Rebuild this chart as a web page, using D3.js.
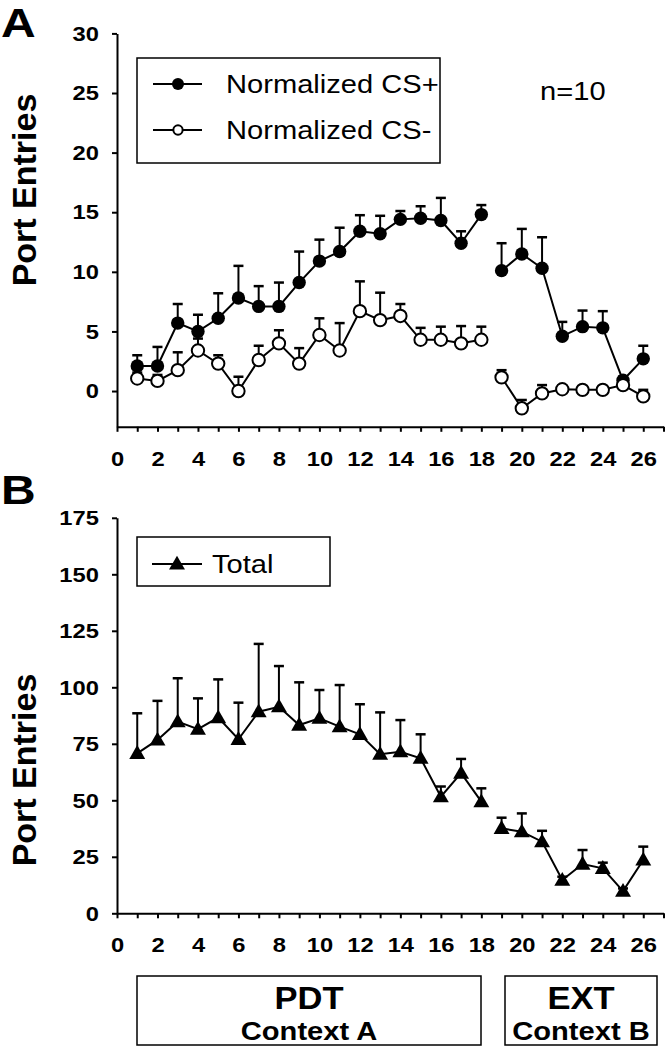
<!DOCTYPE html>
<html><head><meta charset="utf-8">
<script src="https://cdn.jsdelivr.net/npm/d3@7"></script>
<style>body{margin:0;background:#fff}svg{display:block}</style>
</head><body>
<script>
// ---- data ----
const sessions = d3.range(1, 27);
const phase = sessions.map(s => s <= 18 ? "PDT" : "EXT");
const csPlus    = [2.1,2.1,5.7,5.0,6.1,7.8,7.1,7.1,9.1,10.9,11.7,13.4,13.2,14.4,14.5,14.3,12.4,14.8, 10.1,11.5,10.3,4.6,5.4,5.3,0.9,2.7];
const csPlusErr = [0.9,1.6,1.6,1.4,2.1,2.7,1.7,2.0,2.6,1.8,2.0,1.35,1.5,0.7,1.0,1.9,1.0,0.8, 2.3,2.1,2.6,1.2,1.35,1.4,0.3,1.1];
const csMinus    = [1.05,0.85,1.75,3.4,2.3,0.0,2.6,4.0,2.3,4.7,3.4,6.7,5.95,6.3,4.3,4.3,4.0,4.3, 1.15,-1.45,-0.2,0.15,0.1,0.1,0.5,-0.45];
const csMinusErr = [0.5,0.5,1.5,1.0,0.7,1.2,1.2,1.1,1.3,1.4,2.3,2.5,2.3,1.0,1.0,1.1,1.45,1.1, 0.6,0.7,0.7,0.3,0.3,0.3,0.3,0.55];
const total    = [70.8,76.7,84.8,81.5,86.6,77.0,89.2,91.4,83.3,86.3,82.6,79.2,70.4,71.5,68.6,51.6,62.0,49.4, 37.6,36.1,31.7,14.7,21.8,19.9,9.8,23.6];
const totalErr = [17.7,17.3,19.2,13.6,16.9,16.2,30.0,18.0,18.9,12.5,18.4,13.3,18.5,14.0,10.6,4.5,6.3,5.9, 4.7,8.1,4.8,1.5,6.2,2.5,1.2,5.9];
const yTicksA = [0,5,10,15,20,25,30];
const yTicksB = [0,25,50,75,100,125,150,175];
const xTickLabels = d3.range(0, 27, 2);
const legendA = ["Normalized CS+", "Normalized CS-"];
const legendB = ["Total"];
const contexts = [{name:"PDT", sub:"Context A"}, {name:"EXT", sub:"Context B"}];

// ---- layout ----
const W = 665, H = 1050, FONT = "'Liberation Sans', Arial, Helvetica, sans-serif";
const SX = 1.12;
const svg = d3.select("body").append("svg").attr("width", W).attr("height", H)
  .style("font-family", FONT);

const x = d3.scaleLinear().domain([0, 27]).range([117, 663.5]);
const yA = d3.scaleLinear().domain([-3, 30]).range([426.8, 33.4]);
const yB = d3.scaleLinear().domain([0, 175]).range([913.3, 517.8]);

function label(g, px, py, str, size, weight, anchor, sx) {
  return g.append("text")
    .attr("transform", `translate(${px},${py}) scale(${sx||SX},1)`)
    .attr("text-anchor", anchor || "start")
    .attr("font-size", size).attr("font-weight", weight || "normal")
    .attr("fill", "#000").text(str);
}

function axes(y, yTicks, yBase) {
  const gx = svg.append("g").attr("transform", `translate(0,${y(yBase)})`)
    .call(d3.axisBottom(x).tickValues(d3.range(0, 28)).tickSize(5).tickSizeOuter(0)
      .tickFormat(d => xTickLabels.includes(d) ? d : ""));
  const gy = svg.append("g").attr("transform", `translate(${x(0)},0)`)
    .call(d3.axisLeft(y).tickValues(yTicks).tickSize(5).tickSizeOuter(0));
  [gx, gy].forEach(g => {
    g.select(".domain").attr("stroke", "#000").attr("stroke-width", 2);
    g.selectAll(".tick line").attr("stroke", "#000").attr("stroke-width", 2);
    g.selectAll(".tick text").attr("font-family", FONT).attr("font-size", 21)
      .attr("font-weight", "bold").attr("fill", "#000");
  });
  gx.selectAll(".tick text").attr("y", 24).attr("transform", "scale(1.13,1)");
  gy.selectAll(".tick text").attr("x", -16).attr("transform", "scale(1.13,1)");
}

function series(y, vals, errs, kind) {
  const pts = sessions.map((s, i) => ({s, v: vals[i], e: errs[i], p: phase[i]}));
  const g = svg.append("g");
  const eb = g.selectAll(".eb").data(pts).join("g");
  eb.append("line").attr("x1", d => x(d.s)).attr("x2", d => x(d.s))
    .attr("y1", d => y(d.v)).attr("y2", d => y(d.v + d.e))
    .attr("stroke", "#000").attr("stroke-width", 2);
  eb.append("line").attr("x1", d => x(d.s) - 5).attr("x2", d => x(d.s) + 5)
    .attr("y1", d => y(d.v + d.e)).attr("y2", d => y(d.v + d.e))
    .attr("stroke", "#000").attr("stroke-width", 2.5);
  const line = d3.line().x(d => x(d.s)).y(d => y(d.v));
  d3.groups(pts, d => d.p).forEach(([, arr]) => {
    g.append("path").attr("d", line(arr)).attr("fill", "none")
      .attr("stroke", "#000").attr("stroke-width", 2);
  });
  marker(g.selectAll(".m").data(pts).join("g")
    .attr("transform", d => `translate(${x(d.s)},${y(d.v)})`), kind, 1);
}

function marker(sel, kind, scale) {
  if (kind === "filled") sel.append("circle").attr("r", 6.7 * scale).attr("fill", "#000");
  else if (kind === "open") sel.append("circle").attr("r", 6.2 * scale).attr("fill", "#fff")
    .attr("stroke", "#000").attr("stroke-width", 2);
  else sel.append("path").attr("d", d3.symbol(d3.symbolTriangle, 110 * scale * scale)())
    .attr("transform", "translate(0,1)").attr("fill", "#000");
}

// ---- Panel A ----
axes(yA, yTicksA, -3);
series(yA, csPlus, csPlusErr, "filled");
series(yA, csMinus, csMinusErr, "open");

const lgA = svg.append("g");
lgA.append("rect").attr("x", 137).attr("y", 58).attr("width", 303).attr("height", 105)
  .attr("fill", "none").attr("stroke", "#000").attr("stroke-width", 1.5);
legendA.forEach((t, i) => {
  const yy = 84 + i * 46;
  lgA.append("line").attr("x1", 153).attr("x2", 202).attr("y1", yy).attr("y2", yy)
    .attr("stroke", "#000").attr("stroke-width", 2);
  marker(lgA.append("g").attr("transform", `translate(178,${yy})`), i === 0 ? "filled" : "open", i === 0 ? 0.9 : 0.75);
  label(lgA, 226, yy + 9, t, 26, "normal");
});
label(svg, 540, 100, "n=10", 26, "normal");

// ---- Panel B ----
axes(yB, yTicksB, 0);
series(yB, total, totalErr, "tri");

const lgB = svg.append("g");
lgB.append("rect").attr("x", 137).attr("y", 537).attr("width", 193).attr("height", 49)
  .attr("fill", "none").attr("stroke", "#000").attr("stroke-width", 1.5);
lgB.append("line").attr("x1", 152).attr("x2", 202).attr("y1", 564).attr("y2", 564)
  .attr("stroke", "#000").attr("stroke-width", 2);
marker(lgB.append("g").attr("transform", "translate(177,564)"), "tri", 1);
label(lgB, 212, 573, legendB[0], 26, "normal");

// ---- panel letters & y titles ----
label(svg, 1, 37, "A", 40, "bold", "start", 1.2);
label(svg, 1, 504, "B", 40, "bold", "start", 1.2);
[190, 770].forEach(cy => {
  svg.append("text").attr("transform", `translate(36,${cy}) rotate(-90)`)
    .attr("text-anchor", "middle").attr("font-size", 34).attr("font-weight", "bold")
    .attr("fill", "#000").text("Port Entries");
});

// ---- context boxes ----
const boxes = [{x0: 137, x1: 481}, {x0: 505, x1: 657}];
contexts.forEach((c, i) => {
  const b = boxes[i];
  svg.append("rect").attr("x", b.x0).attr("y", 976).attr("width", b.x1 - b.x0).attr("height", 69)
    .attr("fill", "none").attr("stroke", "#000").attr("stroke-width", 1.5);
  const cx = (b.x0 + b.x1) / 2;
  label(svg, cx, 1009, c.name, 32, "bold", "middle", 1.08);
  label(svg, cx, 1040, c.sub, 26, "bold", "middle", 1.12);
});
</script>
</body></html>
